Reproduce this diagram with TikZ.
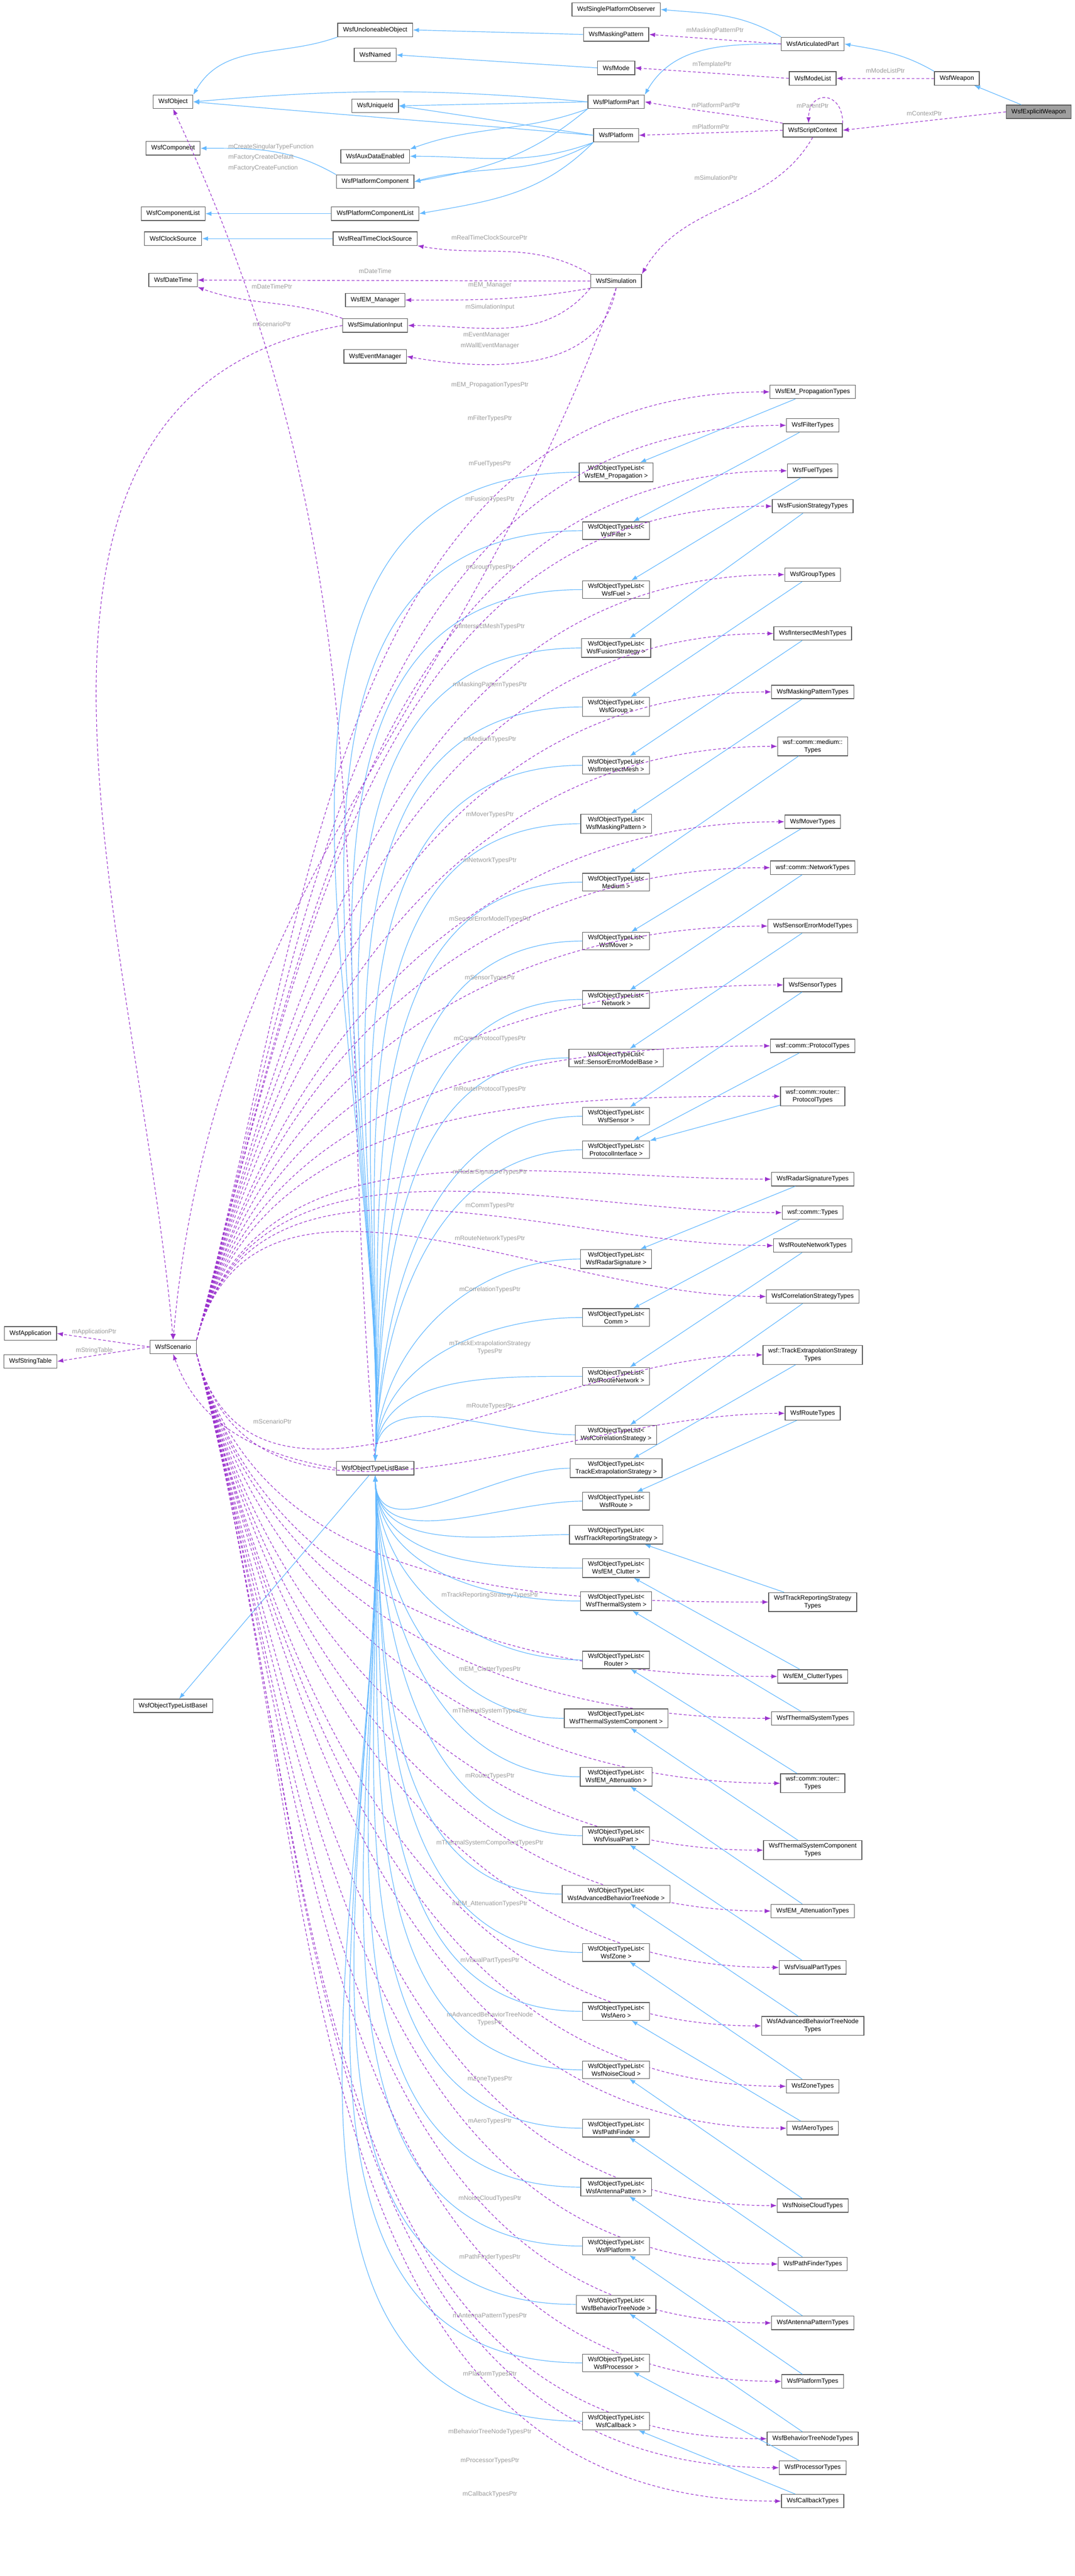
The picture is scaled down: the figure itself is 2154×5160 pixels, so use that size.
\documentclass[tikz,border=0pt]{standalone}
\usepackage{fontspec}
\setmainfont{Liberation Sans}
\usepackage{tikz}
\usetikzlibrary{arrows.meta}

\definecolor{inhblue}{HTML}{63B8FF}
\definecolor{usepurple}{HTML}{9A32CD}
\definecolor{lblgray}{HTML}{9A9A9A}

\tikzset{
  cls/.style={draw=gray!70!black, fill=white, line width=0.4pt, inner xsep=3pt, inner ysep=1.5pt,
    minimum height=0.27cm, align=center, font=\fontsize{3.6pt}{4.4pt}\selectfont},
  cur/.style={cls, fill=gray!75},
  inh/.style={draw=inhblue, line width=0.35pt, -{Latex[length=1.2mm,width=0.9mm]}},
  use/.style={draw=usepurple, line width=0.35pt, dash pattern=on 1.6pt off 1.2pt, -{Latex[length=1.2mm,width=0.9mm]}},
  lbl/.style={text=lblgray, inner sep=0pt, align=center, font=\fontsize{3.6pt}{4.4pt}\selectfont}
}

\begin{document}
\begin{tikzpicture}[x=0.01cm, y=0.01cm]
\useasboundingbox (0,0) rectangle (2154,-5160);

% -------------------------------------------------------
% 1. Upper classes
% -------------------------------------------------------
\node[cur] (ew)   at (2082,-224) {WsfExplicitWeapon};
\node[cls] (wp)   at (1918,-157) {WsfWeapon};
\node[cls] (ap)   at (1629,-88)  {WsfArticulatedPart};
\node[cls] (ml)   at (1629,-157) {WsfModeList};
\node[cls] (ctx)  at (1629,-261) {WsfScriptContext};
\node[cls] (spo)  at (1235,-19)  {WsfSinglePlatformObserver};
\node[cls] (mp)   at (1235,-69)  {WsfMaskingPattern};
\node[cls] (mode) at (1235,-136) {WsfMode};
\node[cls] (pp)   at (1235,-204) {WsfPlatformPart};
\node[cls] (plat) at (1235,-271) {WsfPlatform};
\node[cls] (sim)  at (1235,-563) {WsfSimulation};
\node[cls] (uo)   at (752,-60)   {WsfUncloneableObject};
\node[cls] (nmd)  at (752,-110)  {WsfNamed};
\node[cls] (uid)  at (752,-212)  {WsfUniqueId};
\node[cls] (aux)  at (752,-313)  {WsfAuxDataEnabled};
\node[cls] (pc)   at (752,-364)  {WsfPlatformComponent};
\node[cls] (pcl)  at (752,-428)  {WsfPlatformComponentList};
\node[cls] (rtcs) at (752,-478)  {WsfRealTimeClockSource};
\node[cls] (em)   at (752,-601)  {WsfEM\_Manager};
\node[cls] (si)   at (752,-652)  {WsfSimulationInput};
\node[cls] (evm)  at (752,-714)  {WsfEventManager};
\node[cls] (obj)  at (347,-204)  {WsfObject};
\node[cls] (comp) at (347,-297)  {WsfComponent};
\node[cls] (cl)   at (347,-428)  {WsfComponentList};
\node[cls] (cs)   at (347,-478)  {WsfClockSource};
\node[cls] (dt)   at (347,-561)  {WsfDateTime};

% inheritance
\draw[inh] (ew) -- (wp);
\draw[inh] (wp.north west) to[out=150,in=-10] (ap.east);
\draw[inh] (ap.north west) to[out=150,in=-5] (spo.east);
\draw[inh] (ap.west) to[out=180,in=60] (pp.north east);
\draw[inh] (mp.west) -- (uo.east);
\draw[inh] (mode.west) -- (nmd.east);
\draw[inh] (uo.south west) to[out=200,in=60] (obj.north east);
\draw[inh] (pp.west) to[out=175,in=5] (obj.east);
\draw[inh] (pp.west) -- (uid.east);
\draw[inh] (pp.south west) to[out=200,in=20] (aux.north east);
\draw[inh] (pp.south west) to[out=220,in=10] (pc.east);
\draw[inh] (plat.west) to[out=175,in=-5] (obj.east);
\draw[inh] (plat.west) -- (uid.east);
\draw[inh] (plat.south west) to[out=200,in=0] (aux.east);
\draw[inh] (plat.south west) to[out=210,in=15] (pc.east);
\draw[inh] (plat.south west) to[out=225,in=10] (pcl.east);
\draw[inh] (pc.north west) to[out=150,in=0] (comp.east);
\draw[inh] (pcl) -- (cl);
\draw[inh] (rtcs) -- (cs);

% members
\draw[use] (ew.west) -- (ctx.east) node[lbl, pos=0.5, above=3pt] {mContextPtr};
\draw[use] (wp) -- (ml) node[lbl, pos=0.5, above=3pt] {mModeListPtr};
\draw[use] (ap.west) -- (mp.east) node[lbl, pos=0.5, above=3pt] {mMaskingPatternPtr};
\draw[use] (ml.west) -- (mode.east) node[lbl, pos=0.5, above=3pt] {mTemplatePtr};
\draw[use] (ctx.north west) to[out=170,in=-10] (pp.east) node[lbl] at (1435,-211) {mPlatformPartPtr};
\draw[use] (ctx.west) -- (plat.east) node[lbl, pos=0.5, above=2pt] {mPlatformPtr};
\draw[use] (ctx.north east) to[out=90,in=90,looseness=2.5] (ctx.120);
\node[lbl] at (1629,-212) {mParentPtr};
\draw[use] (ctx.south) to[out=-120,in=60] (sim.north east) node[lbl] at (1435,-356) {mSimulationPtr};
\draw[use] (sim.north west) to[out=150,in=-10] (rtcs.south east) node[lbl] at (981,-476) {mRealTimeClockSourcePtr};
\draw[use] (sim.west) -- (dt.east) node[lbl] at (752,-543) {mDateTime};
\draw[use] (sim.south west) to[out=190,in=0] (em.east) node[lbl] at (982,-571) {mEM\_Manager};
\draw[use] (sim.south west) to[out=230,in=0] (si.east) node[lbl] at (982,-615) {mSimulationInput};
\draw[use] (sim.south) to[out=-100,in=-10] (evm.east);
\node[lbl] at (975,-671) {mEventManager};
\node[lbl] at (982,-693) {mWallEventManager};
\draw[use] (si.north west) to[out=160,in=-20] (dt.south east) node[lbl] at (545,-574) {mDateTimePtr};

% -------------------------------------------------------
% 2. Scenario and type list bases
% -------------------------------------------------------
\node[cls] (sc)   at (347,-2698) {WsfScenario};
\node[cls] (app)  at (61,-2671)  {WsfApplication};
\node[cls] (strt) at (61,-2727)  {WsfStringTable};
\node[cls] (otlb) at (752,-2941) {WsfObjectTypeListBase};
\node[cls] (otli) at (347,-3417) {WsfObjectTypeListBaseI};

\draw[use] (sc.west) -- (app.east) node[lbl] at (189,-2668) {mApplicationPtr};
\draw[use] (sc.west) -- (strt.east) node[lbl] at (189,-2705) {mStringTable};
\draw[use] (si.west) to[out=190,in=95] (sc.north) node[lbl] at (545,-649) {mScenarioPtr};
\draw[use] (sim.south) to[out=-110,in=85] (sc.north);
\draw[use] (otlb.west) to[out=170,in=-70] (sc.south) node[lbl] at (546,-2847) {mScenarioPtr};
\draw[use] (otlb.north) to[out=95,in=-65] (obj.south);
\node[lbl, anchor=west] at (457,-294) {mCreateSingularTypeFunction};
\node[lbl, anchor=west] at (457,-315) {mFactoryCreateDefault};
\node[lbl, anchor=west] at (457,-337) {mFactoryCreateFunction};
\draw[inh] (otlb) -- (otli);

% -------------------------------------------------------
% 3. Type lists and their types
% -------------------------------------------------------
\foreach \k/\ly/\lt/\ty/\tt/\mp in {
  EMProp/946/WsfEM\_Propagation/785/WsfEM\_PropagationTypes/mEM\_PropagationTypesPtr,
  Filter/1063/WsfFilter/852/WsfFilterTypes/mFilterTypesPtr,
  Fuel/1181/WsfFuel/943/WsfFuelTypes/mFuelTypesPtr,
  Fusion/1298/WsfFusionStrategy/1014/WsfFusionStrategyTypes/mFusionTypesPtr,
  Group/1416/WsfGroup/1151/WsfGroupTypes/mGroupTypesPtr,
  Mesh/1533/WsfIntersectMesh/1269/WsfIntersectMeshTypes/mIntersectMeshTypesPtr,
  Mask/1650/WsfMaskingPattern/1386/WsfMaskingPatternTypes/mMaskingPatternTypesPtr,
  Medium/1767/Medium/1495/{wsf::comm::medium::\\Types}/mMediumTypesPtr,
  Mover/1885/WsfMover/1646/WsfMoverTypes/mMoverTypesPtr,
  Network/2002/Network/1738/wsf::comm::NetworkTypes/mNetworkTypesPtr,
  SensErr/2119/wsf::SensorErrorModelBase/1855/WsfSensorErrorModelTypes/mSensorErrorModelTypesPtr,
  Sensor/2236/WsfSensor/1973/WsfSensorTypes/mSensorTypesPtr,
  Protocol/2303/ProtocolInterface/2095/wsf::comm::ProtocolTypes/mCommProtocolTypesPtr,
  Radar/2522/WsfRadarSignature/2362/WsfRadarSignatureTypes/mRadarSignatureTypesPtr,
  Comm/2639/Comm/2429/wsf::comm::Types/mCommTypesPtr,
  RNet/2757/WsfRouteNetwork/2495/WsfRouteNetworkTypes/mRouteNetworkTypesPtr,
  Corr/2874/WsfCorrelationStrategy/2597/WsfCorrelationStrategyTypes/mCorrelationTypesPtr,
  TExtra/2941/TrackExtrapolationStrategy/2714/{wsf::TrackExtrapolationStrategy\\Types}/{mTrackExtrapolationStrategy\\TypesPtr},
  Route/3007/WsfRoute/2831/WsfRouteTypes/mRouteTypesPtr,
  TRep/3074/WsfTrackReportingStrategy/3209/{WsfTrackReportingStrategy\\Types}/mTrackReportingStrategyTypesPtr,
  Clutter/3141/WsfEM\_Clutter/3358/WsfEM\_ClutterTypes/mEM\_ClutterTypesPtr,
  Thermal/3207/WsfThermalSystem/3442/WsfThermalSystemTypes/mThermalSystemTypesPtr,
  Router/3325/Router/3572/{wsf::comm::router::\\Types}/mRouterTypesPtr,
  TComp/3442/WsfThermalSystemComponent/3706/{WsfThermalSystemComponent\\Types}/mThermalSystemComponentTypesPtr,
  Atten/3559/WsfEM\_Attenuation/3828/WsfEM\_AttenuationTypes/mEM\_AttenuationTypesPtr,
  Visual/3677/WsfVisualPart/3941/WsfVisualPartTypes/mVisualPartTypesPtr,
  ABT/3794/WsfAdvancedBehaviorTreeNode/4058/{WsfAdvancedBehaviorTreeNode\\Types}/{mAdvancedBehaviorTreeNode\\TypesPtr},
  Zone/3911/WsfZone/4179/WsfZoneTypes/mZoneTypesPtr,
  Aero/4029/WsfAero/4263/WsfAeroTypes/mAeroTypesPtr,
  Noise/4146/WsfNoiseCloud/4418/WsfNoiseCloudTypes/mNoiseCloudTypesPtr,
  Path/4263/WsfPathFinder/4535/WsfPathFinderTypes/mPathFinderTypesPtr,
  Antenna/4381/WsfAntennaPattern/4653/WsfAntennaPatternTypes/mAntennaPatternTypesPtr,
  Plat/4499/WsfPlatform/4770/WsfPlatformTypes/mPlatformTypesPtr,
  BT/4616/WsfBehaviorTreeNode/4885/WsfBehaviorTreeNodeTypes/mBehaviorTreeNodeTypesPtr,
  Proc/4733/WsfProcessor/4943/WsfProcessorTypes/mProcessorTypesPtr,
  Callback/4850/WsfCallback/5010/WsfCallbackTypes/mCallbackTypesPtr} {
  \node[cls] (l\k) at (1235,-\ly) {WsfObjectTypeList<\\ \lt\ >};
  \node[cls] (t\k) at (1629,-\ty) {\tt};
  \draw[inh] (t\k) -- (l\k);
  \ifnum\ly<2941
    \draw[inh] (l\k.west) to[out=180,in=88] (otlb.north);
  \else
    \draw[inh] (l\k.west) to[out=180,in=-88] (otlb.south);
  \fi
  \ifnum\ty<2698
    \draw[use] (sc.north east) to[out=75,in=180] (t\k.west);
  \else
    \draw[use] (sc.south east) to[out=-75,in=180] (t\k.west);
  \fi
  \node[lbl] at (982,-\ty+14) {\mp};
}

% router protocol types share the protocol interface list
\node[cls] (tRProto) at (1629,-2196) {wsf::comm::router::\\ProtocolTypes};
\draw[inh] (tRProto) -- (lProtocol);
\draw[use] (sc.north east) to[out=75,in=180] (tRProto.west);
\node[lbl] at (982,-2182) {mRouterProtocolTypesPtr};

\end{tikzpicture}
\end{document}
